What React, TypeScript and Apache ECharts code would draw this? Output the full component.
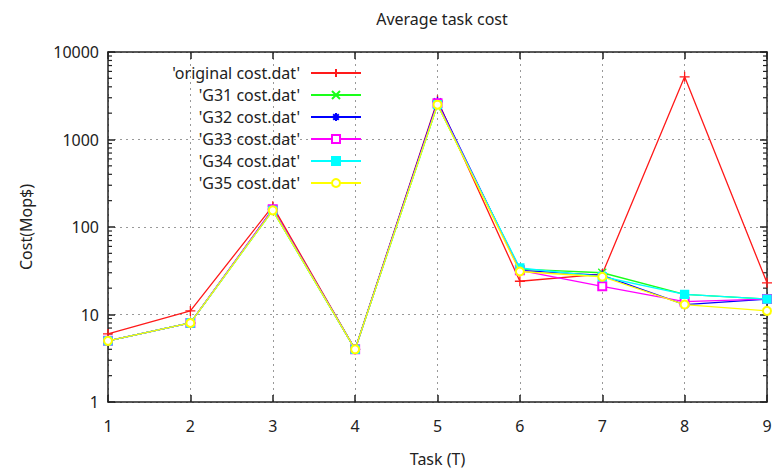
import React, { useEffect, useRef } from "react";
import * as echarts from "echarts";

const tasks = [1, 2, 3, 4, 5, 6, 7, 8, 9];
const originalCost = [6, 11, 173, 4, 2800, 24, 29, 5200, 23];
const g31Cost = [5, 8, 155, 4, 2500, 33, 30, 17, 15];
const g32Cost = [5, 8, 160, 4, 2700, 32, 28, 13, 15];
const g33Cost = [5, 8, 160, 4, 2600, 32, 21, 14, 15];
const g34Cost = [5, 8, 155, 4, 2500, 34, 27, 17, 15];
const g35Cost = [5, 8, 155, 4, 2500, 31, 27, 13, 11];
const seriesNames = [
  "'original cost.dat'",
  "'G31 cost.dat'",
  "'G32 cost.dat'",
  "'G33 cost.dat'",
  "'G34 cost.dat'",
  "'G35 cost.dat'",
];
const yMin = 1;
const yMax = 10000;
const decades = [1, 10, 100, 1000];
const minorMultipliers = [2, 3, 4, 5, 6, 7, 8, 9];

const FONT = "Noto Sans";
const FS = 16;

const plus = "path://M0,5 L10,5 M5,0 L5,10";
const cross = "path://M0,0 L10,10 M10,0 L0,10";
const star = "path://M0,5 L10,5 M5,0 L5,10 M1.5,1.5 L8.5,8.5 M8.5,1.5 L1.5,8.5";

export default function App() {
  const ref = useRef<HTMLDivElement>(null);
  useEffect(() => {
    if (!ref.current) return;
    const chart = echarts.init(ref.current, null, { renderer: "svg" });
    const seriesData = [originalCost, g31Cost, g32Cost, g33Cost, g34Cost, g35Cost];
    const colors = ["#ff1a1a", "#1aff1a", "#0000ff", "#ff00ff", "#00ffff", "#ffff00"];
    const symbols = [plus, cross, star, "emptyRect", "rect", "emptyCircle"];
    const sizes = [10, 8, 10, 8, 8, 8];
    const minorTicks: number[][] = [];
    decades.forEach((d) => minorMultipliers.forEach((m) => minorTicks.push([1, d * m])));

    const lineSeries = seriesData.map((vals, i) => ({
      name: seriesNames[i],
      type: "line",
      data: vals.map((v, j) => [tasks[j], v]),
      symbol: symbols[i],
      symbolSize: sizes[i],
      showAllSymbol: true,
      lineStyle: { color: colors[i], width: 1.3 },
      itemStyle: { color: colors[i], borderColor: colors[i], borderWidth: 1.3 },
      emphasis: { disabled: true },
      z: 3 + i,
    }));

    chart.setOption({
      animation: false,
      backgroundColor: "#ffffff",
      textStyle: { fontFamily: FONT },
      title: {
        text: "Average task cost",
        left: 437,
        textAlign: "center",
        top: 6,
        textStyle: { fontFamily: FONT, fontSize: 16, fontWeight: "normal", color: "#222" },
      },
      legend: {
        orient: "vertical",
        align: "right",
        right: 408,
        top: 57,
        itemWidth: 50,
        itemHeight: 10,
        itemGap: 0,
        data: seriesNames,
        selectedMode: false,
        textStyle: { fontFamily: FONT, fontSize: FS, color: "#222", lineHeight: 22, padding: [0, 6, 0, 0] },
      },
      grid: { left: 108, right: 8, top: 52, bottom: 72 },
      xAxis: [
        {
          type: "value",
          min: 1,
          max: 9,
          interval: 1,
          name: "Task (T)",
          nameLocation: "middle",
          nameGap: 49,
          nameTextStyle: { fontFamily: FONT, fontSize: FS, color: "#222" },
          axisLine: { show: true, onZero: false, lineStyle: { color: "#222", width: 1.5 } },
          axisTick: { show: true, inside: true, length: 7, lineStyle: { color: "#222", width: 1.5 } },
          axisLabel: { fontFamily: FONT, fontSize: FS, color: "#222", margin: 16 },
          splitLine: { show: true, lineStyle: { color: "#999", type: [2, 4], width: 1 } },
        },
        {
          type: "value",
          min: 1,
          max: 9,
          interval: 1,
          position: "top",
          axisLine: { show: true, lineStyle: { color: "#222", width: 1.5 } },
          axisTick: { show: true, inside: true, length: 7, lineStyle: { color: "#222", width: 1.5 } },
          axisLabel: { show: false },
          splitLine: { show: false },
        },
      ],
      yAxis: [
        {
          type: "log",
          logBase: 10,
          min: yMin,
          max: yMax,
          name: "Cost(Mop$)",
          nameLocation: "middle",
          nameGap: 74,
          nameTextStyle: { fontFamily: FONT, fontSize: FS, color: "#222" },
          axisLine: { show: true, onZero: false, lineStyle: { color: "#222", width: 1.5 } },
          axisTick: { show: true, inside: true, length: 7, lineStyle: { color: "#222", width: 1.5 } },
          axisLabel: {
            fontFamily: FONT,
            fontSize: FS,
            color: "#222",
            margin: 9,
            formatter: (v: number) => String(Math.round(v)),
          },
          splitLine: { show: true, lineStyle: { color: "#999", type: [2, 4], width: 1 } },
        },
        {
          type: "log",
          logBase: 10,
          min: yMin,
          max: yMax,
          position: "right",
          axisLine: { show: true, lineStyle: { color: "#222", width: 1.5 } },
          axisTick: { show: true, inside: true, length: 7, lineStyle: { color: "#222", width: 1.5 } },
          axisLabel: { show: false },
          splitLine: { show: false },
        },
      ],
      series: [
        {
          type: "custom",
          silent: true,
          data: minorTicks,
          z: 1,
          clip: false,
          renderItem: (params: any, api: any) => {
            const v = api.value(1);
            const l = api.coord([1, v]);
            const r = api.coord([9, v]);
            const st = { stroke: "#222", lineWidth: 1.2 };
            return {
              type: "group",
              children: [
                { type: "line", shape: { x1: l[0], y1: l[1], x2: l[0] + 4, y2: l[1] }, style: st },
                { type: "line", shape: { x1: r[0], y1: r[1], x2: r[0] - 4, y2: r[1] }, style: st },
              ],
            };
          },
        },
        ...lineSeries,
      ],
    });
    return () => chart.dispose();
  }, []);
  return <div ref={ref} style={{ width: 775, height: 474, position: "absolute", left: 0, top: 0 }} />;
}
